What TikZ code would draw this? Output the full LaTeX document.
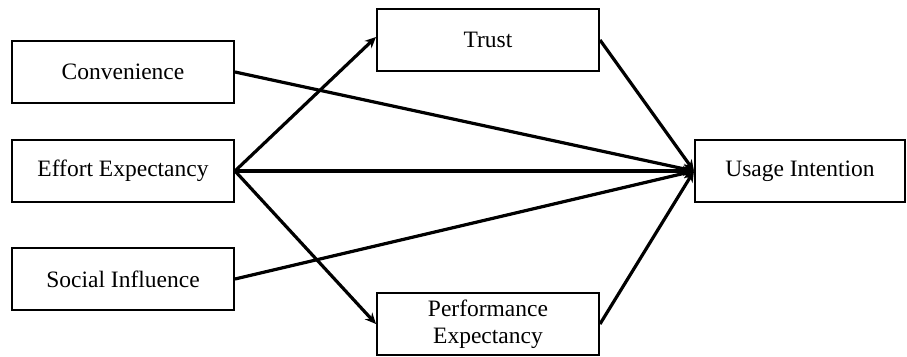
\documentclass[tikz,border=0pt]{standalone}
\usepackage{fontspec}
\setmainfont{Liberation Serif}
\usetikzlibrary{arrows.meta}
\begin{document}
\begin{tikzpicture}[x=1pt,y=-1pt,
  box/.style={draw,line width=2pt,minimum width=222pt,minimum height=62pt,inner sep=0pt,
    font=\fontsize{23.5}{27}\selectfont,align=center},
  conn/.style={line width=3.2pt},
  arr/.style={conn,-{Stealth[length=11pt,width=10pt]}}]
\useasboundingbox (0,0) rectangle (907,356);
\node[box] (C) at (123,72) {Convenience};
\node[box] (E) at (123,171) {Effort Expectancy};
\node[box] (S) at (123,279) {Social Influence};
\node[box] (T) at (488,40) {Trust};
\node[box] (P) at (488,324) {Performance\\Expectancy};
\node[box,minimum width=210pt] (U) at (800,171) {Usage Intention};
\draw[arr] (E.east) -- ([yshift=3pt]T.west);
\draw[arr] (E.east) -- (P.west);
\draw[arr] (E.east) -- (U.west);
\draw[arr] (C.east) -- (U.west);
\draw[arr] (S.east) -- (U.west);
\draw[arr] (T.east) -- (U.west);
\draw[arr] (P.east) -- (U.west);
\end{tikzpicture}
\end{document}
